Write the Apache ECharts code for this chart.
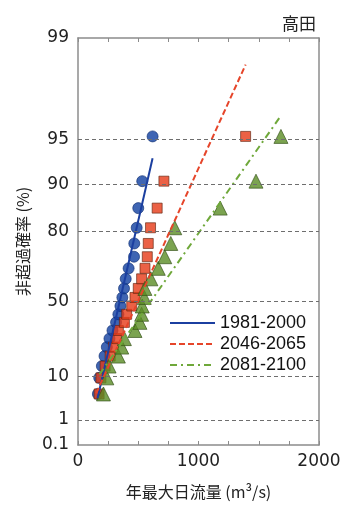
<!DOCTYPE html>
<html>
<head>
<meta charset="utf-8">
<script src="https://cdn.jsdelivr.net/npm/echarts@6/dist/echarts.min.js"></script>
<style>
html,body{margin:0;padding:0;background:#fff;}
#c{width:347px;height:505px;}
</style>
</head>
<body>
<div id="c"></div>
<script>
// Non-exceedance probabilities (%) of the ranked annual maxima (20 years)
const probs = [4.76, 9.52, 14.29, 19.05, 23.81, 28.57, 33.33, 38.10, 42.86, 47.62,
               52.38, 57.14, 61.90, 66.67, 71.43, 76.19, 80.95, 85.71, 90.48, 95.24];
// Annual maximum daily discharge (m3/s), sorted ascending
const q1981 = [165, 176, 198, 220, 239, 261, 286, 316, 335, 352, 368, 382, 396, 420, 465, 467, 487, 500, 533, 619];
const q2046 = [175, 190, 225, 267, 294, 322, 335, 385, 404, 446, 473, 500, 528, 556, 575, 583, 602, 657, 713, 1391];
const q2081 = [211, 239, 258, 335, 363, 385, 473, 514, 528, 533, 550, 555, 605, 666, 720, 770, 803, 1180, 1477, 1684];
// Fitted distribution lines: [probability %] and [discharge]
const fit1981P = [3.85, 93.3],  fit1981X = [162, 619];
const fit2046P = [4.91, 98.47], fit2046X = [151, 1391];
const fit2081P = [10.8, 96.56], fit2081X = [178, 1684];
// Axis tick labels
const yTickLabels = ['0.1', '1', '10', '50', '80', '90', '95', '99'];
const gridProbs = ['1', '10', '50', '80', '90', '95'];
const seriesNames = ['1981-2000', '2046-2065', '2081-2100'];

// Gumbel reduced variate
function G(pct) { const p = pct / 100; return -Math.log(-Math.log(p)); }

const yTickVals = yTickLabels.map(s => G(parseFloat(s)));
const yMin = yTickVals[0], yMax = yTickVals[yTickVals.length - 1];

function pts(xs, ps) { return xs.map((x, i) => [x, G(ps[i])]); }

const tickFont = 'DejaVu Sans';
const chart = echarts.init(document.getElementById('c'), null, {renderer: 'canvas'});

const boxColor = '#8c8c8c';
const option = {
  animation: false,
  backgroundColor: '#ffffff',
  title: {
    text: '高田', right: 26, top: 10,
    textStyle: {fontFamily: 'Noto Sans CJK JP', fontSize: 17, fontWeight: 'normal', color: '#222'}
  },
  grid: {left: 78, right: 28, top: 38, bottom: 52, containLabel: false},
  legend: {
    data: seriesNames,
    orient: 'vertical', left: 164, top: 309,
    itemWidth: 45, itemHeight: 12, itemGap: 3,
    itemStyle: {opacity: 0},
    textStyle: {fontFamily: 'Liberation Sans', fontSize: 18, color: '#111', lineHeight: 18},
    selectedMode: false
  },
  xAxis: [{
    type: 'value', min: 0, max: 2000, interval: 250, position: 'bottom',
    name: '年最大日流量 (m³/s)', nameLocation: 'middle', nameGap: 39,
    nameTextStyle: {fontFamily: 'Noto Sans CJK JP', fontSize: 16, color: '#222'},
    axisLine: {show: true, onZero: false, lineStyle: {color: boxColor, width: 1.5}},
    axisTick: {show: true, inside: true, length: 4, lineStyle: {color: boxColor}},
    axisLabel: {fontFamily: tickFont, fontSize: 17, color: '#222', margin: 8,
      formatter: v => (v % 1000 === 0 ? String(v) : '')},
    splitLine: {show: false}
  }, {
    type: 'value', min: 0, max: 2000, interval: 250, position: 'top',
    axisLine: {show: true, onZero: false, lineStyle: {color: boxColor, width: 1.5}},
    axisTick: {show: true, inside: true, length: 4, lineStyle: {color: boxColor}},
    axisLabel: {show: false}, splitLine: {show: false}
  }],
  yAxis: [{
    type: 'value', min: yMin, max: yMax, position: 'left',
    name: '非超過確率 (%)', nameLocation: 'middle', nameGap: 38, nameRotate: 90,
    nameTextStyle: {fontFamily: 'Noto Sans CJK JP', fontSize: 16, color: '#222'},
    axisLine: {show: true, onZero: false, lineStyle: {color: boxColor, width: 1.5}},
    axisTick: {show: false},
    axisLabel: {
      fontFamily: tickFont, fontSize: 17, color: '#222', margin: 9,
      customValues: yTickVals,
      formatter: function (v) {
        let best = 0, d = Infinity;
        yTickVals.forEach((t, i) => { if (Math.abs(t - v) < d) { d = Math.abs(t - v); best = i; } });
        return yTickLabels[best];
      }
    },
    splitLine: {show: false}
  }, {
    type: 'value', min: yMin, max: yMax, position: 'right',
    axisLine: {show: true, onZero: false, lineStyle: {color: boxColor, width: 1.5}},
    axisTick: {show: false}, axisLabel: {show: false}, splitLine: {show: false}
  }],
  series: [
    {
      name: 'grid', type: 'line', data: [], silent: true,
      markLine: {
        silent: true, symbol: 'none', label: {show: false},
        lineStyle: {color: '#6e6e6e', type: [4, 3], width: 1},
        data: gridProbs.map(p => ({yAxis: G(parseFloat(p))}))
      }
    },
    {
      name: 'pts1981', type: 'scatter', data: pts(q1981, probs), symbol: 'circle', symbolSize: 11, z: 3,
      itemStyle: {color: '#0f3ea0', borderColor: '#0b2a6e', borderWidth: 0.8}
    },
    {
      name: 'pts2046', type: 'scatter', data: pts(q2046, probs), symbol: 'rect', symbolSize: 10, z: 3,
      itemStyle: {color: '#e63a16', borderColor: '#5e220e', borderWidth: 0.8}
    },
    {
      name: 'pts2081', type: 'scatter', data: pts(q2081, probs), symbol: 'triangle', symbolSize: 14, z: 3,
      itemStyle: {color: '#5a8c24', borderColor: '#2e4a12', borderWidth: 0.8}
    },
    {
      name: seriesNames[0], type: 'line', data: pts(fit1981X, fit1981P), symbol: 'none', z: 4,
      lineStyle: {color: '#1b3fa0', width: 2, type: 'solid'}, itemStyle: {color: '#1b3fa0'}
    },
    {
      name: seriesNames[1], type: 'line', data: pts(fit2046X, fit2046P), symbol: 'none', z: 4,
      lineStyle: {color: '#e6452a', width: 2, type: [6, 3]}, itemStyle: {color: '#e6452a'}
    },
    {
      name: seriesNames[2], type: 'line', data: pts(fit2081X, fit2081P), symbol: 'none', z: 4,
      lineStyle: {color: '#6fa83a', width: 2, type: [7, 4, 2, 4]}, itemStyle: {color: '#6fa83a'}
    }
  ]
};
chart.setOption(option);
</script>
</body>
</html>
